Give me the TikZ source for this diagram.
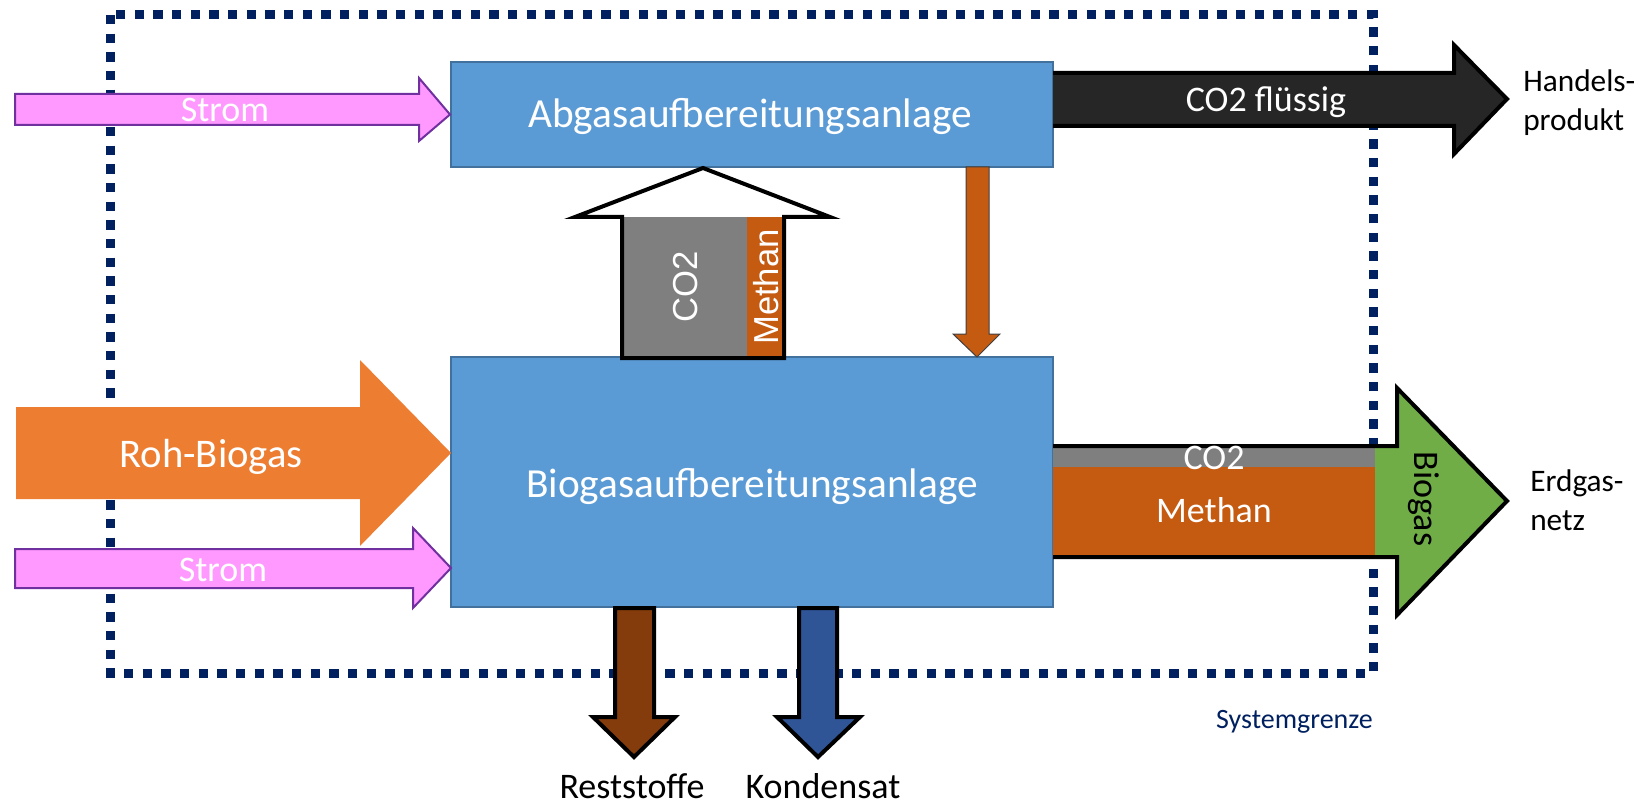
\documentclass[tikz,border=0pt]{standalone}
\usepackage{fontspec}
\setmainfont{Carlito}
\newfontfamily\arialfont{Liberation Sans}
\definecolor{boxblue}{HTML}{5B9BD5}
\definecolor{boxline}{HTML}{41719C}
\definecolor{pinkfill}{HTML}{FF99FF}
\definecolor{purpleline}{HTML}{7030A0}
\definecolor{rohorange}{HTML}{ED7D31}
\definecolor{darkfill}{HTML}{262626}
\definecolor{grayfill}{HTML}{7F7F7F}
\definecolor{methanorange}{HTML}{C55A11}
\definecolor{greenfill}{HTML}{70AD47}
\definecolor{brownfill}{HTML}{843C0C}
\definecolor{kondblue}{HTML}{2F5597}
\definecolor{navy}{HTML}{002060}
\tikzset{
  plantbox/.style={draw=boxline, fill=boxblue, line width=1.5pt, inner sep=0pt},
  bigtxt/.style={font=\fontsize{27}{32}\selectfont, inner sep=0pt},
  whitetxt/.style={bigtxt, text=white},
  hugetxt/.style={font=\fontsize{31}{36}\selectfont, inner sep=0pt, text=white},
  sidetxt/.style={font=\fontsize{23.5}{29}\selectfont, inner sep=0pt, anchor=base west},
  arialtxt/.style={font=\arialfont\fontsize{26}{30}\selectfont, text=white, inner sep=0pt},
  stromarrow/.style={fill=pinkfill, draw=purpleline, line width=1.5pt, line join=miter},
  outarrow/.style={draw=black, line width=3pt, line join=miter},
}
\begin{document}
\begin{tikzpicture}[x=0.75pt,y=-0.75pt]
\useasboundingbox (0,0) rectangle (1647,806);

% system boundary
\draw[navy, line width=6.75pt, dash pattern=on 7pt off 7pt] (110,15) rectangle (1373,673);
\node[font=\fontsize{21}{25}\selectfont, text=navy, inner sep=0pt, anchor=base east] (sg) at (1373,728) {Systemgrenze};

% plant boxes
\node[plantbox, minimum width=451.5pt, minimum height=78.75pt] (abg) at (752,114.5) {};
\node[hugetxt, anchor=base] (abgtxt) at (750,128) {Abgasaufbereitungsanlage};
\node[plantbox, minimum width=451.5pt, minimum height=187.5pt] (bio) at (752,482) {};
\node[hugetxt, anchor=base] (biotxt) at (752,497) {Biogasaufbereitungsanlage};

% Strom top
\draw[stromarrow] (15,94) -- (419,94) -- (419,78) -- (abg.west) -- (419,141) -- (419,125) -- (15,125) -- cycle;
\node[whitetxt, anchor=base] (strom1) at (225,122) {Strom};

% Roh-Biogas
\fill[rohorange] (16,407) -- (360,407) -- (360,360) -- (451,453) -- (360,546) -- (360,499) -- (16,499) -- cycle;
\node[hugetxt, font=\fontsize{30.5}{36}\selectfont, anchor=base] (roh) at (211,467) {Roh-Biogas};

% Strom lower
\draw[stromarrow] (15,549) -- (413,549) -- (413,528) -- (451,568) -- (413,608) -- (413,588) -- (15,588) -- cycle;
\node[whitetxt, anchor=base] (strom2) at (223,581) {Strom};

% CO2 fluessig
\fill[darkfill] (1053,73) -- (1454,73) -- (1454,45) -- (1507,99) -- (1454,154) -- (1454,126) -- (1053,126) -- cycle;
\draw[outarrow] (1053,73) -- (1454,73) -- (1454,45) -- (1507,99) -- (1454,154) -- (1454,126) -- (1053,126);
\node[whitetxt, anchor=base] (co2fl) at (1266,112) {CO2 flüssig};
\node[sidetxt] (hp1) at (1523,92) {Handels-};
\node[sidetxt] (hp2) at (1523,131) {produkt};

% Biogas output
\fill[greenfill] (1053,446) -- (1397,446) -- (1397,388) -- (1507,501) -- (1397,615) -- (1397,557) -- (1053,557) -- cycle;
\fill[grayfill] (1053,446) rectangle (1375,467);
\fill[methanorange] (1053,467) rectangle (1375,555);
\draw[outarrow] (1053,446) -- (1397,446) -- (1397,388) -- (1507,501) -- (1397,615) -- (1397,557) -- (1053,557);
\node[whitetxt, anchor=base] (co2b) at (1214,469) {CO2};
\node[whitetxt, anchor=base] (methb) at (1214,522) {Methan};
\node[bigtxt, rotate=-90] (biogas) at (1424,499) {Biogas};
\node[sidetxt] (en1) at (1530,491) {Erdgas-};
\node[sidetxt] (en2) at (1530,530) {netz};

% up arrow CO2 / Methan
\fill[white] (622,358) -- (622,217) -- (575,217) -- (703,168) -- (830,217) -- (784,217) -- (784,358) -- cycle;
\fill[grayfill] (622,217) rectangle (747,358);
\fill[methanorange] (747,217) rectangle (784,358);
\draw[outarrow] (622,358) -- (622,217) -- (575,217) -- (703,168) -- (830,217) -- (784,217) -- (784,358) -- cycle;
\node[arialtxt, rotate=90] (co2up) at (686,287) {CO2};
\node[arialtxt, rotate=90] (methup) at (766,287) {Methan};

% return arrow (Methan) down
\draw[fill=methanorange, draw=black!75, line width=0.75pt, line join=miter] (966,167) -- (989,167) -- (989,334) -- (1000,334) -- (977,357) -- (953,334) -- (966,334) -- cycle;

% Reststoffe
\draw[outarrow, fill=brownfill] (615,608) -- (654,608) -- (654,717) -- (675,717) -- (634,757) -- (593,717) -- (615,717) -- cycle;
\node[bigtxt, anchor=base] (rest) at (632,798) {Reststoffe};

% Kondensat
\draw[outarrow, fill=kondblue] (799,608) -- (837,608) -- (837,717) -- (860,717) -- (818,757) -- (777,717) -- (799,717) -- cycle;
\node[bigtxt, anchor=base] (kond) at (823,798) {Kondensat};
\end{tikzpicture}
\end{document}
